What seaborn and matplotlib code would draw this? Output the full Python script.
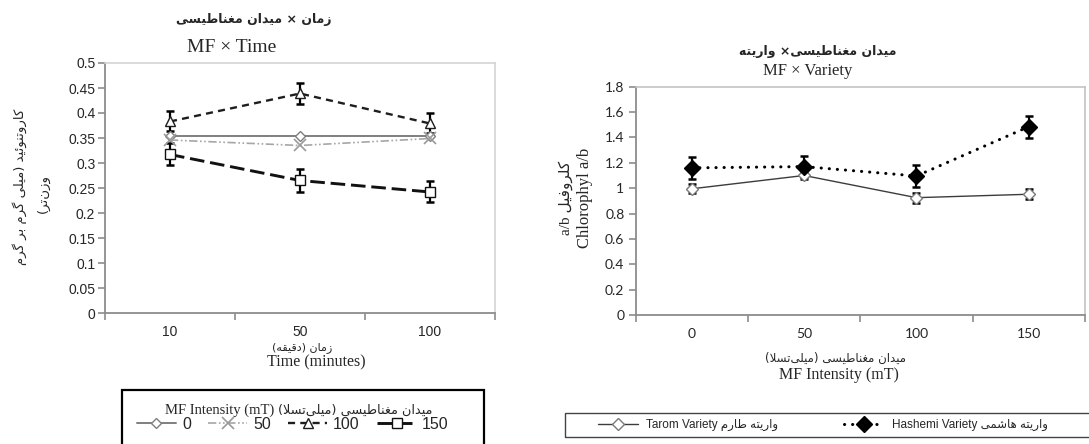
import numpy as np
import pandas as pd
import matplotlib
matplotlib.use("Agg")
import matplotlib.pyplot as plt
import seaborn as sns
from matplotlib.patches import Rectangle

# ---------------- data ----------------
time_cats = ["10", "50", "100"]
mf_levels = ["0", "50", "100", "150"]
car_0 = [0.353, 0.353, 0.353]
car_50 = [0.346, 0.335, 0.349]
car_100 = [0.383, 0.439, 0.379]
car_150 = [0.317, 0.265, 0.242]
err_100 = [0.020, 0.021, 0.020]
err_150 = [0.022, 0.023, 0.021]

mf_cats = ["0", "50", "100", "150"]
tarom = [0.995, 1.100, 0.925, 0.952]
tarom_err = [0.035, 0.030, 0.040, 0.040]
hashemi = [1.160, 1.170, 1.096, 1.485]
hashemi_err = [0.085, 0.085, 0.090, 0.087]

left_yticks = [0, 0.05, 0.1, 0.15, 0.2, 0.25, 0.3, 0.35, 0.4, 0.45, 0.5]
right_yticks = [0, 0.2, 0.4, 0.6, 0.8, 1.0, 1.2, 1.4, 1.6, 1.8]

# ------------- minimal Persian shaping (presentation forms) -------------
FORMS = {
    "ا": ("\uFE8D", "\uFE8E", None, None),
    "ب": ("\uFE8F", "\uFE90", "\uFE91", "\uFE92"),
    "ت": ("\uFE95", "\uFE96", "\uFE97", "\uFE98"),
    "د": ("\uFEA9", "\uFEAA", None, None),
    "ر": ("\uFEAD", "\uFEAE", None, None),
    "ز": ("\uFEAF", "\uFEB0", None, None),
    "س": ("\uFEB1", "\uFEB2", "\uFEB3", "\uFEB4"),
    "ش": ("\uFEB5", "\uFEB6", "\uFEB7", "\uFEB8"),
    "ط": ("\uFEC1", "\uFEC2", "\uFEC3", "\uFEC4"),
    "غ": ("\uFECD", "\uFECE", "\uFECF", "\uFED0"),
    "ف": ("\uFED1", "\uFED2", "\uFED3", "\uFED4"),
    "ق": ("\uFED5", "\uFED6", "\uFED7", "\uFED8"),
    "ل": ("\uFEDD", "\uFEDE", "\uFEDF", "\uFEE0"),
    "م": ("\uFEE1", "\uFEE2", "\uFEE3", "\uFEE4"),
    "ن": ("\uFEE5", "\uFEE6", "\uFEE7", "\uFEE8"),
    "ه": ("\uFEE9", "\uFEEA", "\uFEEB", "\uFEEC"),
    "و": ("\uFEED", "\uFEEE", None, None),
    "ئ": ("\uFE89", "\uFE8A", "\uFE8B", "\uFE8C"),
    "ک": ("\uFB8E", "\uFB8F", "\uFB90", "\uFB91"),
    "گ": ("\uFB92", "\uFB93", "\uFB94", "\uFB95"),
    "ی": ("\uFBFC", "\uFBFD", "\uFBFE", "\uFBFF"),
}
MIRROR = {"(": ")", ")": "("}


def _dual(ch):
    return ch in FORMS and FORMS[ch][2] is not None


def shape(s):
    out = []
    i, n = 0, len(s)
    while i < n:
        c = s[i]
        if c not in FORMS:
            if c != "\u200c":
                out.append(c)
            i += 1
            continue
        prev = s[i - 1] if i > 0 else ""
        jp = _dual(prev)
        if c == "ل" and i + 1 < n and s[i + 1] == "ا":
            out.append("\uFEFC" if jp else "\uFEFB")
            i += 2
            continue
        nxt = s[i + 1] if i + 1 < n else ""
        jn = _dual(c) and nxt in FORMS
        f = FORMS[c]
        if jp and jn:
            g = f[3]
        elif jp:
            g = f[1]
        elif jn:
            g = f[2]
        else:
            g = f[0]
        out.append(g)
        i += 1
    return "".join(out)


def fa(s):
    """logical Persian string -> visual (shaped, reversed) string"""
    return "".join(MIRROR.get(ch, ch) for ch in reversed(shape(s)))


# ---------------- figure ----------------
sns.set_theme(style="white")
plt.rcParams["font.family"] = ["Liberation Sans", "DejaVu Sans"]

W, H = 1089, 444
fig = plt.figure(figsize=(W / 100, H / 100), dpi=100)
fig.patch.set_facecolor("white")


def fx(x):
    return x / W


def fy(y):
    return 1 - y / H


PERS = ["DejaVu Sans"]
SERIF = ["Liberation Serif", "DejaVu Sans"]

ax1 = fig.add_axes([fx(105), fy(313), 390 / W, 250 / H])
ax2 = fig.add_axes([fx(635.5), fy(315), 449.5 / W, 228.3 / H])

# ---------------- left panel ----------------
vals1 = {"0": car_0, "50": car_50, "100": car_100, "150": car_150}
errs1 = {"100": err_100, "150": err_150}
rows = []
for m in mf_levels:
    for t, v in zip(time_cats, vals1[m]):
        rows.append({"time": t, "mf": m, "val": v})
df1 = pd.DataFrame(rows)
df1["pos"] = df1["time"].map({c: i for i, c in enumerate(time_cats)})

styles1 = {
    "0": dict(color="#7f7f7f", lw=1.4, dashes=None, marker="D", ms=5.0,
              mfc="white", mec="#7f7f7f", mew=1.0),
    "50": dict(color="#a6a6a6", lw=1.2, dashes=(5, 1.5, 1, 1.5, 1, 1.5),
               marker="x", ms=8, mfc="none", mec="#9a9a9a", mew=1.2),
    "100": dict(color="#1e1e1e", lw=1.7, dashes=(3.0, 2.2), marker="^", ms=7.5,
                mfc="white", mec="#1e1e1e", mew=1.0),
    "150": dict(color="#111111", lw=2.1, dashes=(5.0, 2.0), marker="s", ms=7,
                mfc="white", mec="#111111", mew=1.0),
}

handles1 = []
for m in mf_levels:
    st = styles1[m]
    sub = df1[df1["mf"] == m]
    sns.lineplot(data=sub, x="pos", y="val", ax=ax1, color=st["color"],
                 linewidth=st["lw"], marker=st["marker"], markersize=st["ms"],
                 markerfacecolor=st["mfc"], markeredgecolor=st["mec"],
                 markeredgewidth=st["mew"], errorbar=None, legend=False,
                 sort=False, zorder=3)
    ln = ax1.lines[-1]
    if st["dashes"] is not None:
        ln.set_dashes(st["dashes"])
    handles1.append(ln)
    if m in errs1:
        ax1.errorbar(sub["pos"], sub["val"], yerr=errs1[m], fmt="none",
                     ecolor="black", elinewidth=1.6, capsize=3, capthick=1.8,
                     zorder=2.5)

ax1.set_xlim(-0.5, len(time_cats) - 0.5)
ax1.set_ylim(0, 0.5)
ax1.set_xticks(range(len(time_cats)))
ax1.set_xticklabels(time_cats)
ax1.set_xticks(np.arange(-0.5, len(time_cats), 1.0), minor=True)
ax1.set_yticks(left_yticks)
ax1.set_yticklabels(["%g" % v for v in left_yticks])
ax1.tick_params(axis="x", which="major", length=0, pad=8.5, labelsize=10)
ax1.tick_params(axis="x", which="minor", length=5, width=1.2, color="#8c8c8c",
                direction="out", bottom=True)
ax1.tick_params(axis="y", length=5, width=1.2, color="#8c8c8c", direction="out",
                left=True, pad=2, labelsize=10)
ax1.set_xlabel("")
ax1.set_ylabel("")
for side in ["left", "bottom"]:
    ax1.spines[side].set_color("#8c8c8c")
    ax1.spines[side].set_linewidth(1.3)
for side in ["top", "right"]:
    ax1.spines[side].set_color("#d4d4d4")
    ax1.spines[side].set_linewidth(1.2)

fig.text(fx(254), fy(20), fa("زمان × میدان مغناطیسی"), ha="center", va="center",
         family=PERS, fontsize=9, fontweight="bold")
fig.text(fx(232), fy(47), "MF × Time", ha="center", va="center", family=SERIF,
         fontsize=14)
fig.text(fx(20), fy(187), fa("کاروتنوئید (میلی گرم بر گرم"), ha="center",
         va="center", rotation=90, family=PERS, fontsize=9.5)
fig.text(fx(43), fy(193), fa("وزن‌تر)"), ha="center", va="center", rotation=90,
         family=PERS, fontsize=9.5)
fig.text(fx(302), fy(348), fa("زمان (دقیقه)"), ha="center", va="center",
         family=PERS, fontsize=8)
fig.text(fx(316), fy(362), "Time (minutes)", ha="center", va="center",
         family=SERIF, fontsize=11.5)

fig.add_artist(Rectangle((fx(122), fy(452)), (484 - 122) / W, (452 - 390) / H,
                         transform=fig.transFigure, fill=False,
                         edgecolor="black", linewidth=1.6))
fig.text(fx(274), fy(410), "MF Intensity (mT)", ha="right", va="center",
         family=SERIF, fontsize=10.5)
fig.text(fx(278), fy(410), fa("میدان مغناطیسی (میلی‌تسلا)"), ha="left",
         va="center", family=PERS, fontsize=9.3)
fig.legend(handles1, mf_levels, loc="center", bbox_to_anchor=(fx(293), fy(424)),
           ncol=4, frameon=False, handlelength=2.4, columnspacing=1.1,
           handletextpad=0.4, prop={"family": "Liberation Sans", "size": 11.5})

# ---------------- right panel ----------------
df2 = pd.DataFrame({
    "mf": mf_cats * 2,
    "variety": ["Tarom"] * len(mf_cats) + ["Hashemi"] * len(mf_cats),
    "val": tarom + hashemi,
    "err": tarom_err + hashemi_err,
})
df2["pos"] = df2["mf"].map({c: i for i, c in enumerate(mf_cats)})

styles2 = {
    "Tarom": dict(color="#3c3c3c", lw=1.0, dashes=None, marker="D", ms=6.5,
                  mfc="white", mec="#7a7a7a", mew=1.0),
    "Hashemi": dict(color="black", lw=2.2, dashes=(0.05, 2.6), marker="D", ms=8,
                    mfc="black", mec="black", mew=1.0),
}
handles2 = {}
for var in ["Tarom", "Hashemi"]:
    st = styles2[var]
    sub = df2[df2["variety"] == var]
    ax2.errorbar(sub["pos"], sub["val"], yerr=sub["err"], fmt="none",
                 ecolor="black", elinewidth=1.6, capsize=3.2, capthick=1.8,
                 zorder=2.5)
    sns.lineplot(data=sub, x="pos", y="val", ax=ax2, color=st["color"],
                 linewidth=st["lw"], marker=st["marker"], markersize=st["ms"],
                 markerfacecolor=st["mfc"], markeredgecolor=st["mec"],
                 markeredgewidth=st["mew"], errorbar=None, legend=False,
                 sort=False, zorder=3)
    ln = ax2.lines[-1]
    if st["dashes"] is not None:
        ln.set_dashes(st["dashes"])
        ln.set_dash_capstyle("round")
    handles2[var] = ln

ax2.set_xlim(-0.5, len(mf_cats) - 0.5)
ax2.set_ylim(0, 1.8)
ax2.set_xticks(range(len(mf_cats)))
ax2.set_xticklabels(mf_cats)
ax2.set_xticks(np.arange(-0.5, len(mf_cats), 1.0), minor=True)
ax2.set_yticks(right_yticks)
ax2.set_yticklabels(["%g" % v for v in right_yticks])
ax2.tick_params(axis="x", which="major", length=0, pad=9, labelsize=10,
                labelfontfamily="Lato")
ax2.tick_params(axis="x", which="minor", length=5, width=1.2, color="#8c8c8c",
                direction="out", bottom=True)
ax2.tick_params(axis="y", length=5, width=1.2, color="#8c8c8c", direction="out",
                left=True, pad=3, labelsize=10, labelfontfamily="Lato")
ax2.set_xlabel("")
ax2.set_ylabel("")
for side in ["left", "bottom"]:
    ax2.spines[side].set_color("#8c8c8c")
    ax2.spines[side].set_linewidth(1.3)
for side in ["top", "right"]:
    ax2.spines[side].set_color("#c4c4c4")
    ax2.spines[side].set_linewidth(1.2)

fig.text(fx(818), fy(52), fa("میدان مغناطیسی× واریته"), ha="center", va="center",
         family=PERS, fontsize=9, fontweight="bold")
fig.text(fx(808), fy(71), "MF × Variety", ha="center", va="center",
         family=SERIF, fontsize=12)
fig.text(fx(566), fy(198), "a/b " + fa("کلروفیل"), ha="center", va="center",
         rotation=90, family=SERIF, fontsize=11)
fig.text(fx(585), fy(198), "Chlorophyl a/b", ha="center", va="center",
         rotation=90, family=SERIF, fontsize=12)
fig.text(fx(836), fy(358), fa("میدان مغناطیسی (میلی‌تسلا)"), ha="center",
         va="center", family=PERS, fontsize=8.5)
fig.text(fx(839), fy(375), "MF Intensity (mT)", ha="center", va="center",
         family=SERIF, fontsize=11.5)

fig.add_artist(Rectangle((fx(565), fy(437)), (1100 - 565) / W, (437 - 413) / H,
                         transform=fig.transFigure, fill=False,
                         edgecolor="#444444", linewidth=1.0))
labels2 = ["Tarom Variety " + fa("واریته طارم"),
           "Hashemi Variety " + fa("واریته هاشمی")]
fig.legend([handles2["Tarom"], handles2["Hashemi"]], labels2, loc="center",
           bbox_to_anchor=(fx(823), fy(425)), ncol=2, frameon=False,
           handlelength=3.4, columnspacing=5.5, handletextpad=0.7,
           prop={"family": ["Liberation Sans", "DejaVu Sans"], "size": 8.5})

fig.savefig("out.png", dpi=100)
